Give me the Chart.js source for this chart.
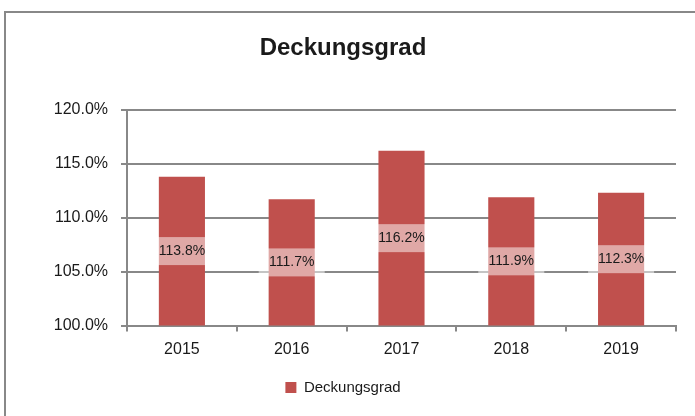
<!DOCTYPE html>
<html>
<head>
<meta charset="utf-8">
<script src="https://cdn.jsdelivr.net/npm/chart.js@4/dist/chart.umd.min.js"></script>
<style>
  html, body { margin: 0; padding: 0; background: #fff; }
  #wrap { width: 695px; height: 416px; }
</style>
</head>
<body>
<div id="wrap"><canvas id="deckungChart"></canvas></div>
<script>
var years = ["2015", "2016", "2017", "2018", "2019"];
var deckungsgrad = [113.8, 111.7, 116.2, 111.9, 112.3];
var yTicks = [100, 105, 110, 115, 120];

var gridGrey = '#888888';
var textDark = '#1a1a1a';

// outer frame, only left and top edge are visible in the picture
var framePlugin = {
    id: 'frame',
    beforeDraw: function (chart) {
        var c = chart.ctx;
        c.save();
        c.fillStyle = '#fff';
        c.fillRect(0, 0, chart.width, chart.height);
        c.strokeStyle = gridGrey;
        c.lineWidth = 2;
        c.beginPath();
        c.moveTo(5, chart.height + 5);
        c.lineTo(5, 12);
        c.lineTo(chart.width + 5, 12);
        c.stroke();
        c.restore();
    }
};

// value labels in the middle of each bar, on a half transparent white box
var valueLabels = {
    id: 'valueLabels',
    afterDatasetsDraw: function (chart) {
        var c = chart.ctx;
        var meta = chart.getDatasetMeta(0);
        var bottom = chart.chartArea.bottom;
        c.save();
        c.font = '14px "Liberation Sans", Arial, sans-serif';
        c.textAlign = 'center';
        c.textBaseline = 'middle';
        meta.data.forEach(function (bar, i) {
            // axis starts at 100%, so the visible bar ends at the chart bottom
            var cy = (bar.y + Math.min(bar.base, bottom)) / 2;
            c.fillStyle = 'rgba(255,255,255,0.5)';
            c.fillRect(bar.x - 33, cy - 14, 66, 28);
            c.fillStyle = textDark;
            c.fillText(deckungsgrad[i].toFixed(1) + '%', bar.x, cy);
        });
        c.restore();
    }
};

var ctx = document.getElementById('deckungChart').getContext('2d');

var chart = new Chart(ctx, {
    type: 'bar',
    data: {
        labels: years,
        datasets: [{
            label: 'Deckungsgrad',
            backgroundColor: '#C0504D',
            data: deckungsgrad,
            categoryPercentage: 1,
            barPercentage: 0.42
        }]
    },
    options: {
        responsive: true,
        maintainAspectRatio: false,
        animation: false,
        layout: { padding: { left: 10, right: 19, top: 0, bottom: 11 } },
        plugins: {
            title: {
                display: true,
                text: 'Deckungsgrad',
                color: textDark,
                font: { family: '"Liberation Sans", Arial, sans-serif', size: 24, weight: 'bold' },
                padding: { top: 34, bottom: 47 }
            },
            legend: {
                position: 'bottom',
                labels: {
                    boxWidth: 11,
                    boxHeight: 11,
                    color: textDark,
                    font: { family: '"Liberation Sans", Arial, sans-serif', size: 15 }
                }
            },
            tooltip: { enabled: false }
        },
        scales: {
            x: {
                grid: {
                    offset: true,
                    drawOnChartArea: false,
                    drawTicks: true,
                    tickLength: 6,
                    color: gridGrey,
                    lineWidth: 2
                },
                border: { display: true, color: gridGrey, width: 2 },
                ticks: {
                    color: textDark,
                    padding: 8,
                    font: { family: '"Liberation Sans", Arial, sans-serif', size: 16 }
                },
                afterFit: function (scale) { scale.height = 44.5; }
            },
            y: {
                min: 100,
                max: 120,
                afterBuildTicks: function (scale) {
                    scale.ticks = yTicks.map(function (v) { return { value: v }; });
                },
                grid: {
                    drawTicks: true,
                    tickLength: 6,
                    color: gridGrey,
                    lineWidth: 2
                },
                border: { display: true, color: gridGrey, width: 2 },
                ticks: {
                    color: textDark,
                    padding: 13,
                    font: { family: '"Liberation Sans", Arial, sans-serif', size: 16 },
                    callback: function (v) { return v.toFixed(1) + '%'; }
                },
                afterFit: function (scale) { scale.width = 117; }
            }
        }
    },
    plugins: [framePlugin, valueLabels]
});
</script>
</body>
</html>
